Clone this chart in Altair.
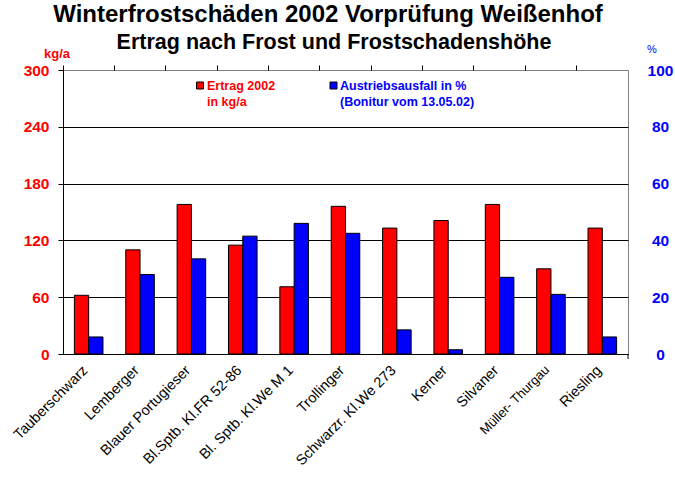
import altair as alt
import pandas as pd

sorten = ["Tauberschwarz", "Lemberger", "Blauer Portugieser", "Bl.Sptb. Kl.FR 52-86",
          "Bl. Sptb. Kl.We M 1", "Trollinger", "Schwarzr. Kl.We 273", "Kerner",
          "Silvaner", "Müller- Thurgau", "Riesling"]
ertrag = [62, 110, 158, 115, 71, 156, 133, 141, 158, 90, 133]
ausfall = [6, 28, 33.5, 41.5, 46, 42.5, 8.5, 1.5, 27, 21, 6]
ticks_left = [0, 60, 120, 180, 240, 300]
ticks_right = [0, 20, 40, 60, 80, 100]

F = "Liberation Sans"
W, H = 565, 284

df = pd.DataFrame({"sorte": sorten, "ertrag": ertrag, "ausfall": ausfall})

xscale = alt.Scale(domain=sorten, paddingInner=0, paddingOuter=0)
offscale = alt.Scale(domain=["E", "A"], paddingInner=0, paddingOuter=0.797)

label_axis = alt.Axis(
    title=None, labelAngle=-45, labelFont=F,
    labelFontSize={"condition": {"test": "datum.value === 'Müller- Thurgau'", "value": 13}, "value": 14.5},
    labelColor="black", ticks=False, domain=True, domainColor="black",
    labelPadding=9, labelOffset=-8, grid=False, labelOverlap=False)
tick_axis = alt.Axis(
    title=None, labels=False, ticks=True, tickSize=5, tickColor="black",
    bandPosition=0, domain=False, grid=False)

red = alt.Chart(df).transform_calculate(s="'E'").mark_bar(
    color="#FF0000", stroke="black", strokeWidth=1).encode(
    x=alt.X("sorte:N", sort=sorten, scale=xscale, axis=label_axis),
    xOffset=alt.XOffset("s:N", scale=offscale),
    y=alt.Y("ertrag:Q", scale=alt.Scale(domain=[0, 300], nice=False),
            axis=alt.Axis(values=ticks_left, title=None, labelColor="#FF0000",
                          labelFontWeight="bold", labelFontSize=15.5, labelFont=F,
                          tickColor="black", tickSize=5, domain=True,
                          domainColor="black", domainWidth=1,
                          grid=True, gridOpacity=1, gridWidth=1,
                          gridColor={"condition": {"test": "datum.value === 300", "value": "#808080"}, "value": "black"},
                          labelPadding=9, labelFlush=False)),
)

blue = alt.Chart(df).transform_calculate(s="'A'").mark_bar(
    color="#0000FF", stroke="black", strokeWidth=1).encode(
    x=alt.X("sorte:N", sort=sorten, scale=xscale, axis=tick_axis),
    xOffset=alt.XOffset("s:N", scale=offscale),
    y=alt.Y("ausfall:Q", scale=alt.Scale(domain=[0, 100], nice=False),
            axis=alt.Axis(orient="right", values=ticks_right, title=None,
                          labelColor="#0000FF", labelFontWeight="bold",
                          labelFontSize=15.5, labelFont=F, ticks=False,
                          domain=False, domainColor="#808080", grid=False,
                          labelAlign="center", labelPadding=32, labelFlush=False)),
)


def txt(t, x, y, size, color="black", weight="bold", align="center", lh=None):
    kw = dict(font=F, fontSize=size, color=color, fontWeight=weight,
              align=align, baseline="alphabetic")
    if lh is not None:
        kw.update(lineBreak="\n", lineHeight=lh)
    return alt.Chart(pd.DataFrame({"t": [t]})).mark_text(**kw).encode(
        text="t:N", x=alt.value(x), y=alt.value(y))


def sq(x, y, color):
    return alt.Chart(pd.DataFrame({"t": [1]})).mark_square(
        size=49, color=color, stroke="black", strokeWidth=1, opacity=1).encode(
        x=alt.value(x), y=alt.value(y))


texts = [
    txt("Winterfrostschäden 2002 Vorprüfung Weißenhof", 265, -48, 24),
    txt("Ertrag nach Frost und Frostschadenshöhe", 271, -21, 21.5),
    txt("kg/a", -6, -12, 13, color="#FF0000"),
    txt("%", 589, -17, 11, color="#0000FF", weight="normal"),
    txt("Ertrag 2002\nin kg/a", 144, 19.5, 12.5, color="#FF0000", align="left", lh=16.7),
    txt("Austriebsausfall in %\n(Bonitur vom 13.05.02)", 277, 19.5, 12.5, color="#0000FF", align="left", lh=16.7),
    sq(137, 15.5, "#FF0000"),
    sq(270.5, 15.5, "#0000FF"),
]

bars = alt.layer(red, blue).resolve_scale(y="independent").resolve_axis(x="independent")

endtick = alt.Chart(pd.DataFrame({"t": [1]})).mark_rule(color="black").encode(
    x=alt.value(W), y=alt.value(H), y2=alt.value(H + 5))

chart = alt.layer(bars, endtick, *texts).properties(
    width=W, height=H,
    autosize=alt.AutoSizeParams(type="none"),
    padding={"left": 63, "top": 70, "right": 47, "bottom": 129},
    background="white",
).configure_view(stroke="#808080", strokeWidth=1)

chart.save("out.html", embed_options={"renderer": "svg", "actions": False})
